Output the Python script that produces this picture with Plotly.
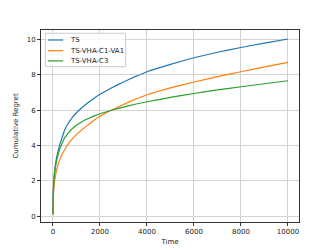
import plotly.graph_objects as go

time = [0, 5, 10, 20, 35, 50, 75, 100, 150, 200, 300, 400, 500, 600, 800, 1000,
        1250, 1500, 1750, 2000, 2500, 3000, 3500, 4000, 5000, 6000, 7000, 8000, 9000, 10000]
ts = [0.1, 0.9, 1.2, 1.6, 2.0, 2.3, 2.6, 2.9, 3.3, 3.6, 4.1, 4.5, 4.9, 5.15, 5.55, 5.86,
      6.17, 6.44, 6.68, 6.9, 7.27, 7.6, 7.9, 8.18, 8.6, 8.97, 9.28, 9.55, 9.8, 10.03]
ts_vha_c1_va1 = [0.1, 0.65, 0.9, 1.2, 1.55, 1.8, 2.05, 2.25, 2.6, 2.85, 3.25, 3.55, 3.78, 4.0, 4.35, 4.62,
                 4.92, 5.18, 5.44, 5.66, 6.02, 6.33, 6.62, 6.88, 7.27, 7.6, 7.9, 8.18, 8.45, 8.71]
ts_vha_c3 = [0.1, 0.85, 1.1, 1.5, 1.9, 2.2, 2.5, 2.75, 3.1, 3.4, 3.85, 4.17, 4.45, 4.62, 4.93, 5.15,
             5.36, 5.53, 5.68, 5.8, 6.0, 6.18, 6.34, 6.48, 6.73, 6.95, 7.15, 7.33, 7.5, 7.67]

names = ["TS", "TS-VHA-C1-VA1", "TS-VHA-C3"]
series = [ts, ts_vha_c1_va1, ts_vha_c3]
colors = ["#1f77b4", "#ff7f0e", "#2ca02c"]
x_ticks = [0, 2000, 4000, 6000, 8000, 10000]
x_ticklabels = ["0", "2000", "4000", "6000", "8000", "10000"]
y_ticks = [0, 2, 4, 6, 8, 10]

fig = go.Figure()
for n, s, c in zip(names, series, colors):
    fig.add_trace(go.Scatter(x=time, y=s, mode="lines", name=n, showlegend=False,
                             line=dict(color=c, width=1.2, shape="spline", smoothing=0.3)))

axis_common = dict(showline=True, linecolor="#333333", linewidth=1, mirror=True,
                   showgrid=True, gridcolor="#d3d3d3", gridwidth=1, zeroline=False,
                   ticks="outside", ticklen=3, tickcolor="#333333", automargin=False,
                   tickfont=dict(family="DejaVu Sans", size=7, color="#222222"))

fig.update_layout(
    width=333, height=250,
    margin=dict(l=41, r=34, t=30, b=28),
    paper_bgcolor="white", plot_bgcolor="white",
    font=dict(family="DejaVu Sans", size=7, color="#222222"),
    xaxis=dict(range=[-510, 10470], tickvals=x_ticks, ticktext=x_ticklabels,
               title=dict(text="Time", font=dict(size=7), standoff=3), **axis_common),
    yaxis=dict(range=[-0.32, 10.54], tickvals=y_ticks,
               title=dict(text="Cumulative Regret", font=dict(size=7), standoff=7), **axis_common),
    showlegend=False,
)

# manual legend (matplotlib-like compact layout)
fig.add_shape(type="rect", xref="paper", yref="paper", x0=0.0167, x1=0.328, y0=0.809, y1=0.983,
              line=dict(color="#cccccc", width=1), fillcolor="rgba(255,255,255,0.8)", layer="above")
entry_y = [0.948, 0.892, 0.839]
for n, c, yy in zip(names, colors, entry_y):
    fig.add_shape(type="line", xref="paper", yref="paper", x0=0.026, x1=0.086, y0=yy, y1=yy,
                  line=dict(color=c, width=1.2), layer="above")
    fig.add_annotation(xref="paper", yref="paper", x=0.106, y=yy, text=n, showarrow=False,
                       xanchor="left", yanchor="middle", font=dict(size=7, color="#222222"))

fig.write_html("out.html", config={"displayModeBar": False},
               post_script="document.body.style.margin='0';document.body.style.padding='0';")
